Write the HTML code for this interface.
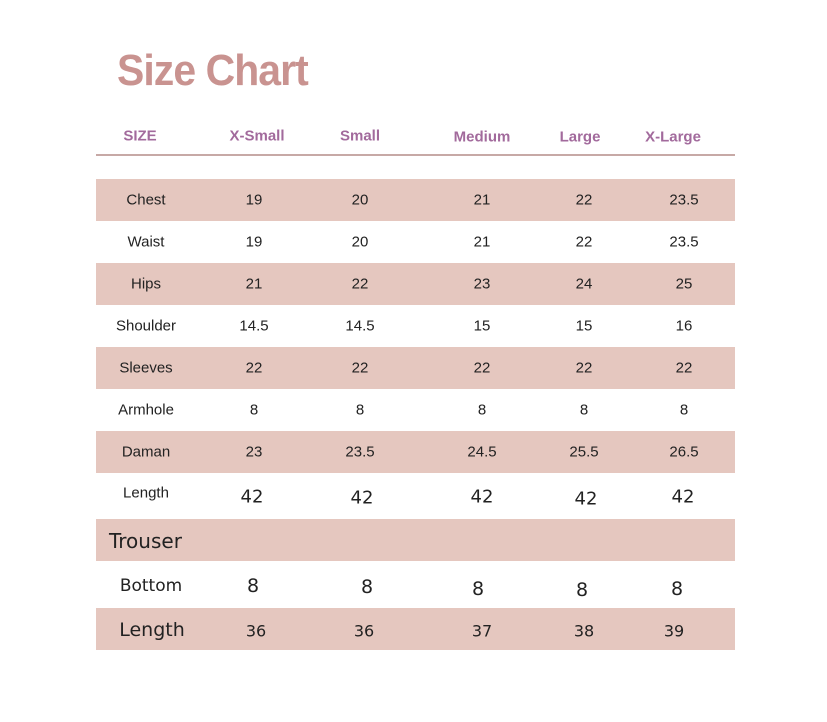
<!DOCTYPE html>
<html><head><style>
body{margin:0;width:827px;height:722px;background:#fff;position:relative;overflow:hidden;font-family:"Liberation Sans",sans-serif}
.b{position:absolute;left:96px;width:639px;height:42px;background:#e5c7bf}
.t{position:absolute;transform:translate(-50%,-50%);white-space:nowrap;color:#222;font-size:15px}
.h{position:absolute;transform:translate(-50%,-50%);color:#a26a9c;font-weight:bold;font-size:15px}
</style></head><body>
<div style="position:absolute;left:117px;top:46px;font-size:44px;font-weight:bold;color:#c99390;letter-spacing:-1px;transform:scaleX(0.93);transform-origin:left top">Size Chart</div>
<div class="h" style="left:140px;top:136px">SIZE</div>
<div class="h" style="left:257px;top:136px">X-Small</div>
<div class="h" style="left:360px;top:136px">Small</div>
<div class="h" style="left:482px;top:137px">Medium</div>
<div class="h" style="left:580px;top:137px">Large</div>
<div class="h" style="left:673px;top:137px">X-Large</div>
<div style="position:absolute;left:96px;top:154px;width:639px;height:2px;background:#c7a9a6"></div>
<div class="b" style="top:179px"></div>
<div class="b" style="top:263px"></div>
<div class="b" style="top:347px"></div>
<div class="b" style="top:431px"></div>
<div class="b" style="top:519px"></div>
<div class="b" style="top:608px"></div>
<div id="r"></div>
<script>
var rows=[["Chest",200,["19","20","21","22","23.5"]],["Waist",242,["19","20","21","22","23.5"]],["Hips",284,["21","22","23","24","25"]],["Shoulder",326,["14.5","14.5","15","15","16"]],["Sleeves",368,["22","22","22","22","22"]],["Armhole",410,["8","8","8","8","8"]],["Daman",452,["23","23.5","24.5","25.5","26.5"]]];
var xs=[254,360,482,584,684],h="";
rows.forEach(function(r){h+='<div class="t" style="left:146px;top:'+r[1]+'px">'+r[0]+'</div>';r[2].forEach(function(v,i){h+='<div class="t" style="left:'+xs[i]+'px;top:'+r[1]+'px">'+v+'</div>'})});
h+='<div class="t" style="left:146px;top:493px">Length</div>';
[[252,497],[362,498],[482,497],[586,499],[683,497]].forEach(function(p){h+='<div class="t" style="left:'+p[0]+'px;top:'+p[1]+'px;font-size:18px;font-family:\'DejaVu Sans\',sans-serif">42</div>'});
h+='<div style="position:absolute;left:109px;top:529px;font-size:20px;font-family:\'DejaVu Sans\',sans-serif;color:#222">Trouser</div>';
h+='<div class="t" style="left:151px;top:586px;font-size:17px;font-family:\'DejaVu Sans\',sans-serif">Bottom</div>';
[[253,586],[367,587],[478,589],[582,590],[677,589]].forEach(function(p){h+='<div class="t" style="left:'+p[0]+'px;top:'+p[1]+'px;font-size:19px;font-family:\'DejaVu Sans\',sans-serif">8</div>'});
h+='<div class="t" style="left:152px;top:630px;font-size:19px;font-family:\'DejaVu Sans\',sans-serif">Length</div>';
[["36",256],["36",364],["37",482],["38",584],["39",674]].forEach(function(p){h+='<div class="t" style="left:'+p[1]+'px;top:631px;font-size:16px;font-family:\'DejaVu Sans\',sans-serif">'+p[0]+'</div>'});
document.getElementById('r').innerHTML=h;
</script>
</body></html>
